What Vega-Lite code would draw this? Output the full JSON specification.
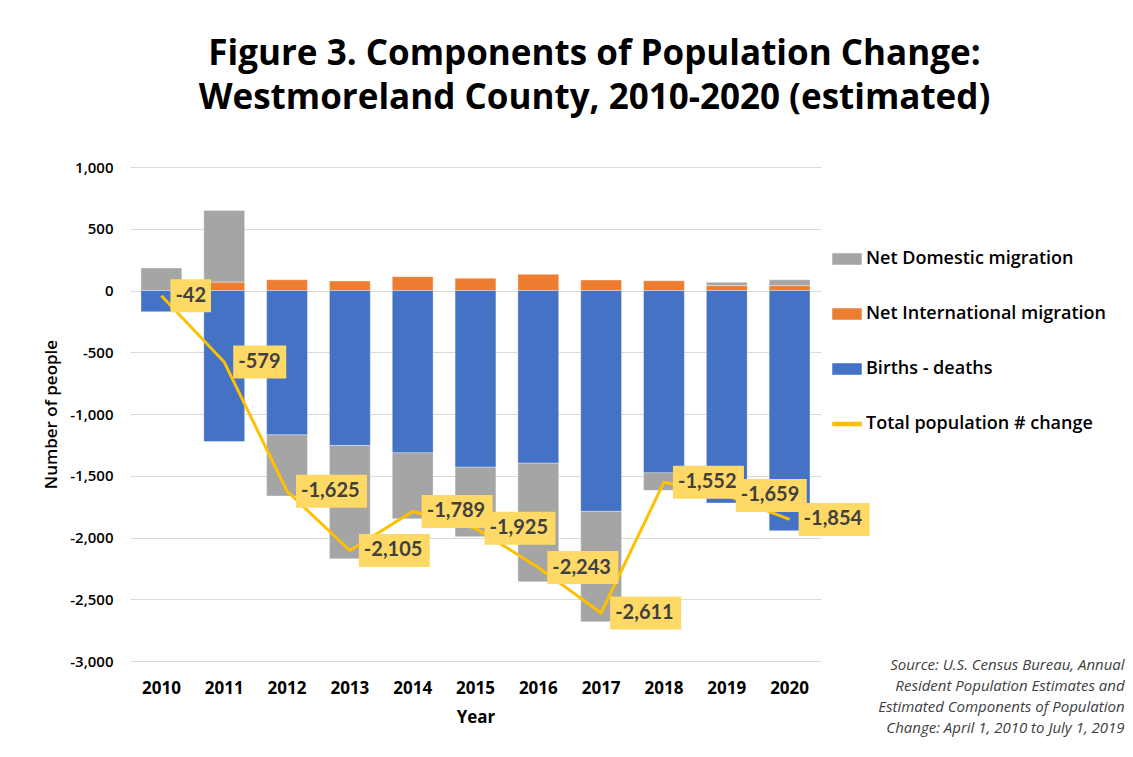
{
  "$schema": "https://vega.github.io/schema/vega-lite/v6.json",
  "width": 691,
  "height": 494,
  "autosize": {"type": "none"},
  "padding": {"left": 130, "top": 167, "right": 312, "bottom": 96},
  "background": "white",
  "title": {
    "text": ["Figure 3. Components of Population Change:", "Westmoreland County, 2010-2020 (estimated)"],
    "font": "Open Sans", "fontSize": 35, "fontWeight": "bold", "color": "#000000",
    "anchor": "middle", "dx": 119, "offset": 44, "lineHeight": 44
  },
  "config": {
    "view": {"stroke": null},
    "font": "Open Sans",
    "legend": {
      "title": null, "orient": "none", "legendX": 702, "legendY": 77,
      "symbolSize": 784, "symbolType": "M-1,-0.36H1V0.36H-1Z",
      "labelFont": "Open Sans", "labelFontSize": 18, "labelFontWeight": 600, "labelLimit": 400,
      "labelColor": "#000000", "rowPadding": 31, "labelOffset": 4, "padding": 0
    }
  },
  "datasets": {
    "components": [
      {"year": 2010, "series": "Net Domestic migration", "value": 182},
      {"year": 2010, "series": "Net International migration", "value": 0},
      {"year": 2010, "series": "Births - deaths", "value": -172},
      {"year": 2011, "series": "Net Domestic migration", "value": 581},
      {"year": 2011, "series": "Net International migration", "value": 67},
      {"year": 2011, "series": "Births - deaths", "value": -1223},
      {"year": 2012, "series": "Net Domestic migration", "value": -496},
      {"year": 2012, "series": "Net International migration", "value": 87},
      {"year": 2012, "series": "Births - deaths", "value": -1168},
      {"year": 2013, "series": "Net Domestic migration", "value": -918},
      {"year": 2013, "series": "Net International migration", "value": 77},
      {"year": 2013, "series": "Births - deaths", "value": -1254},
      {"year": 2014, "series": "Net Domestic migration", "value": -535},
      {"year": 2014, "series": "Net International migration", "value": 112},
      {"year": 2014, "series": "Births - deaths", "value": -1313},
      {"year": 2015, "series": "Net Domestic migration", "value": -564},
      {"year": 2015, "series": "Net International migration", "value": 99},
      {"year": 2015, "series": "Births - deaths", "value": -1429},
      {"year": 2016, "series": "Net Domestic migration", "value": -961},
      {"year": 2016, "series": "Net International migration", "value": 131},
      {"year": 2016, "series": "Births - deaths", "value": -1397},
      {"year": 2017, "series": "Net Domestic migration", "value": -894},
      {"year": 2017, "series": "Net International migration", "value": 85},
      {"year": 2017, "series": "Births - deaths", "value": -1788},
      {"year": 2018, "series": "Net Domestic migration", "value": -143},
      {"year": 2018, "series": "Net International migration", "value": 79},
      {"year": 2018, "series": "Births - deaths", "value": -1475},
      {"year": 2019, "series": "Net Domestic migration", "value": 27},
      {"year": 2019, "series": "Net International migration", "value": 39},
      {"year": 2019, "series": "Births - deaths", "value": -1721},
      {"year": 2020, "series": "Net Domestic migration", "value": 48},
      {"year": 2020, "series": "Net International migration", "value": 39},
      {"year": 2020, "series": "Births - deaths", "value": -1945}
    ],
    "totals": [
      {"year": 2010, "total": -42},
      {"year": 2011, "total": -579},
      {"year": 2012, "total": -1625},
      {"year": 2013, "total": -2105},
      {"year": 2014, "total": -1789},
      {"year": 2015, "total": -1925},
      {"year": 2016, "total": -2243},
      {"year": 2017, "total": -2611},
      {"year": 2018, "total": -1552},
      {"year": 2019, "total": -1659},
      {"year": 2020, "total": -1854}
    ]
  },
  "layer": [
    {
      "data": {"name": "components"},
      "transform": [
        {"calculate": "indexof(['Births - deaths','Net International migration','Net Domestic migration'], datum.series)", "as": "stackOrder"}
      ],
      "mark": {"type": "bar", "stroke": "#ffffff", "strokeWidth": 0.6, "strokeOpacity": 0.6},
      "encoding": {
        "x": {
          "field": "year", "type": "ordinal",
          "scale": {"paddingInner": 0.35, "paddingOuter": 0.175},
          "axis": {
            "title": "Year", "labelAngle": 0, "labelFont": "Open Sans", "labelFontSize": 17, "labelFontWeight": "bold",
            "labelColor": "#000000", "labelPadding": 19, "domain": false, "ticks": false,
            "titleFont": "Open Sans", "titleFontSize": 17, "titleFontWeight": "bold", "titleColor": "#000000", "titlePadding": 13
          }
        },
        "y": {
          "field": "value", "type": "quantitative", "stack": "zero",
          "scale": {"domain": [-3000, 1000], "nice": false, "zero": false},
          "axis": {
            "title": "Number of people", "titleFont": "Open Sans", "titleFontSize": 17, "titleFontWeight": 600,
            "titleColor": "#000000", "titlePadding": 9,
            "values": [-3000, -2500, -2000, -1500, -1000, -500, 0, 500, 1000],
            "labelExpr": "replace(format(datum.value, ','), '\u2212', '-')",
            "labelFont": "Open Sans", "labelFontSize": 15, "labelFontWeight": 600, "labelColor": "#000000",
            "labelPadding": 17, "domain": false, "ticks": false,
            "gridColor": "#d9d9d9", "gridWidth": 1.2
          }
        },
        "color": {
          "field": "series", "type": "nominal",
          "scale": {
            "domain": ["Net Domestic migration", "Net International migration", "Births - deaths", "Total population # change"],
            "range": ["#A5A5A5", "#ED7D31", "#4472C4", "#FFC000"]
          },
          "legend": {
            "encode": {
              "symbols": {
                "update": {
                  "shape": {"signal": "datum.value === 'Total population # change' ? 'M-1,-0.11H1V0.11H-1Z' : 'M-1,-0.36H1V0.36H-1Z'"},
                  "fill": {"scale": "color", "field": "value"},
                  "stroke": {"value": "transparent"},
                  "opacity": {"value": 1}
                }
              }
            }
          }
        },
        "order": {"field": "stackOrder", "type": "quantitative"}
      }
    },
    {
      "mark": {"type": "rule", "color": "#000000", "strokeWidth": 3.5},
      "encoding": {"y": {"datum": 0}}
    },
    {
      "data": {"name": "totals"},
      "mark": {"type": "line", "strokeWidth": 3},
      "encoding": {
        "x": {"field": "year", "type": "ordinal"},
        "y": {"field": "total", "type": "quantitative"},
        "color": {
          "datum": "Total population # change",
          "legend": {
            "encode": {
              "symbols": {
                "update": {
                  "shape": {"signal": "datum.value === 'Total population # change' ? 'M-1,-0.11H1V0.11H-1Z' : 'M-1,-0.36H1V0.36H-1Z'"},
                  "fill": {"scale": "color", "field": "value"},
                  "stroke": {"value": "transparent"},
                  "opacity": {"value": 1}
                }
              }
            }
          }
        }
      }
    },
    {
      "data": {"name": "totals"},
      "transform": [
        {"calculate": "replace(format(datum.total, ','), '\u2212', '-')", "as": "lbl"},
        {"calculate": "length(datum.lbl)", "as": "len"}
      ],
      "mark": {"type": "point", "filled": true, "color": "#FFD966", "opacity": 1, "size": 6400, "strokeWidth": 0},
      "encoding": {
        "x": {"field": "year", "type": "ordinal"},
        "y": {"field": "total", "type": "quantitative"},
        "shape": {
          "field": "len", "type": "nominal",
          "scale": {
            "domain": [3, 4, 6],
            "range": ["M0.225,-0.4125H1.24V0.4125H0.225Z", "M0.225,-0.4125H1.55V0.4125H0.225Z", "M0.225,-0.4125H2V0.4125H0.225Z"]
          },
          "legend": null
        }
      }
    },
    {
      "data": {"name": "totals"},
      "transform": [
        {"calculate": "replace(format(datum.total, ','), '\u2212', '-')", "as": "lbl"}
      ],
      "mark": {"type": "text", "align": "left", "baseline": "middle", "dx": 14, "font": "Lato", "fontSize": 20, "fontWeight": "bold", "color": "#404040"},
      "encoding": {
        "x": {"field": "year", "type": "ordinal"},
        "y": {"field": "total", "type": "quantitative"},
        "text": {"field": "lbl"}
      }
    },
    {
      "data": {"name": "totals"},
      "transform": [{"filter": "datum.year == 2020"}],
      "mark": {"type": "text", "align": "right", "baseline": "alphabetic", "dx": 335, "dy": 9, "font": "Open Sans", "fontSize": 15, "fontStyle": "italic", "color": "#404040", "lineHeight": 21},
      "encoding": {
        "x": {"field": "year", "type": "ordinal"},
        "y": {"datum": -3000},
        "text": {"value": ["Source: U.S. Census Bureau, Annual", "Resident Population Estimates and", "Estimated Components of Population", "Change: April 1, 2010 to July 1, 2019"]}
      }
    }
  ]
}
